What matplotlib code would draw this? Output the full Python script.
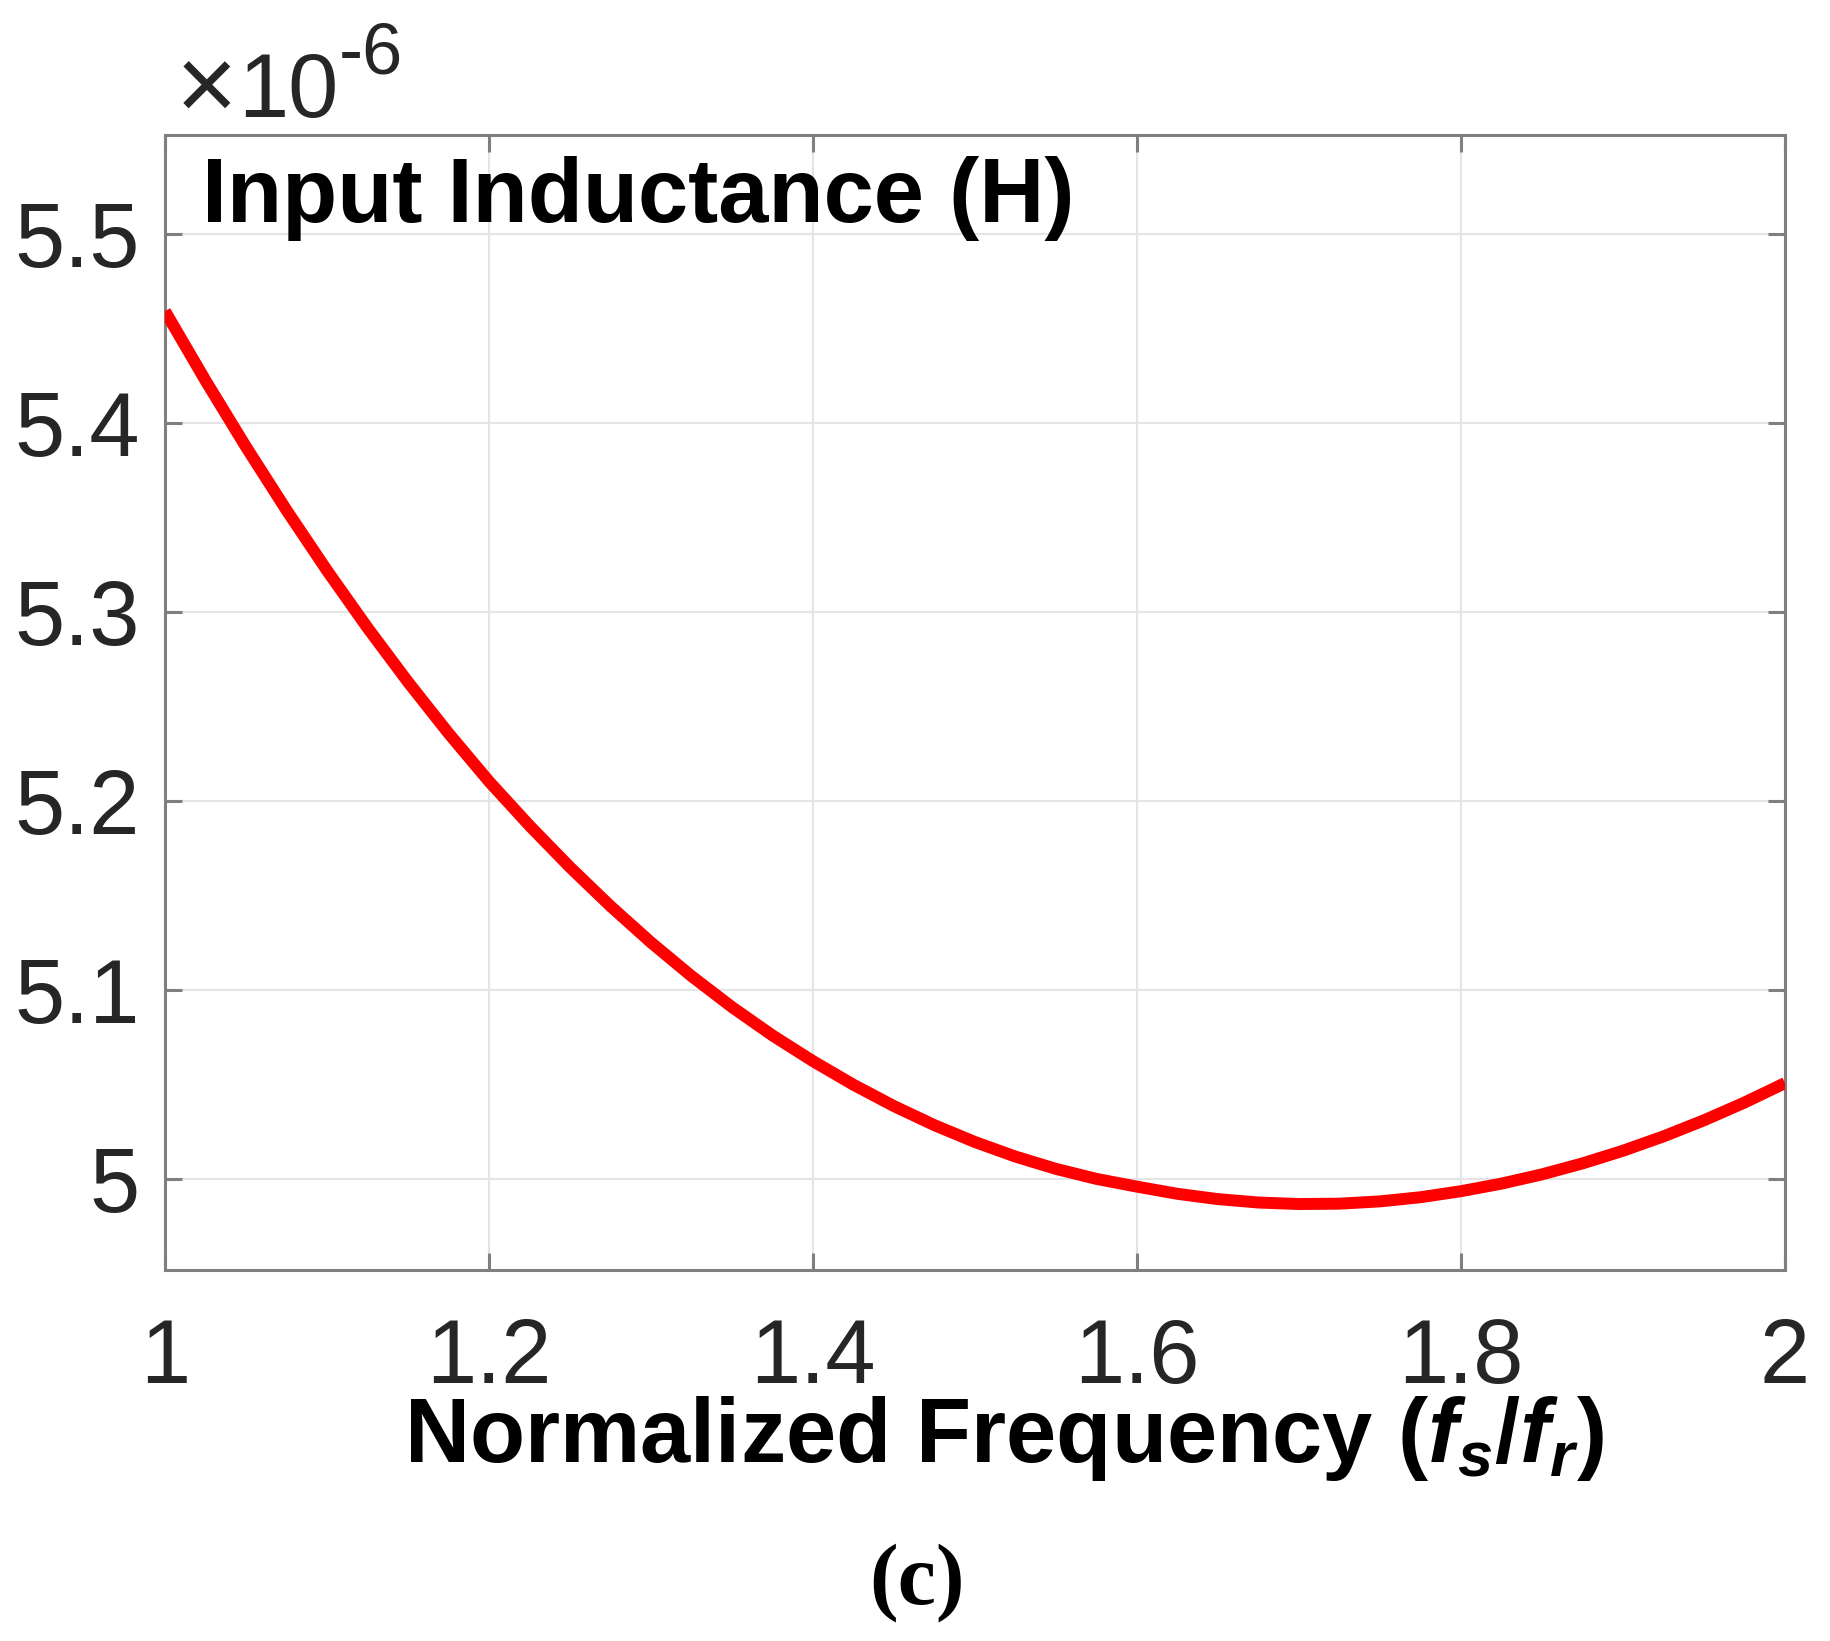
import matplotlib
matplotlib.use("Agg")
import matplotlib.pyplot as plt
from matplotlib.ticker import FuncFormatter

# normalized frequency fs/fr and input inductance (x 1e-6 H)
freq = [1.000, 1.025, 1.050, 1.075, 1.100, 1.125, 1.150, 1.175, 1.200, 1.225,
        1.250, 1.275, 1.300, 1.325, 1.350, 1.375, 1.400, 1.425, 1.450, 1.475,
        1.500, 1.525, 1.550, 1.575, 1.600, 1.625, 1.650, 1.675, 1.700, 1.725,
        1.750, 1.775, 1.800, 1.825, 1.850, 1.875, 1.900, 1.925, 1.950, 1.975,
        2.000]
inductance = [5.4590, 5.4223, 5.3872, 5.3537, 5.3218, 5.2915, 5.2628, 5.2357,
              5.2102, 5.1868, 5.1648, 5.1442, 5.1250, 5.1072, 5.0908, 5.0758,
              5.0622, 5.0497, 5.0384, 5.0283, 5.0194, 5.0117, 5.0052, 4.9999,
              4.9958, 4.9920, 4.9892, 4.9874, 4.9866, 4.9868, 4.9880, 4.9902,
              4.9934, 4.9974, 5.0023, 5.0081, 5.0148, 5.0224, 5.0309, 5.0403,
              5.0506]

xticks = [1, 1.2, 1.4, 1.6, 1.8, 2]
yticks = [5.0, 5.1, 5.2, 5.3, 5.4, 5.5]

plt.rcParams['font.family'] = ['Liberation Sans', 'DejaVu Sans']
plt.rcParams['mathtext.fontset'] = 'custom'
plt.rcParams['mathtext.rm'] = 'Liberation Sans:bold'
plt.rcParams['mathtext.bf'] = 'Liberation Sans:bold'
plt.rcParams['mathtext.it'] = 'Liberation Sans:italic:bold'

W, H = 1831, 1641
L, R, T, B = 165, 1785, 135, 1270   # axes box in pixels
fig = plt.figure(figsize=(W / 100, H / 100), dpi=100)
ax = fig.add_axes([L / W, 1 - B / H, (R - L) / W, (B - T) / H])

ax.plot(freq, inductance, color='#ff0000', lw=8.6, solid_capstyle='butt',
        solid_joinstyle='round', zorder=3)

ax.set_xlim(1, 2)
ax.set_ylim(4.9517, 5.5522)
ax.set_xticks(xticks)
ax.set_yticks(yticks)
fmt = FuncFormatter(lambda v, p: '%g' % round(v, 3))
ax.xaxis.set_major_formatter(fmt)
ax.yaxis.set_major_formatter(fmt)

ax.grid(True, color='#e4e4e4', lw=1.5, zorder=0)
ax.set_axisbelow(True)
for s in ax.spines.values():
    s.set_color('#7f7f7f')
    s.set_linewidth(2.2)

ax.tick_params(axis='both', direction='in', length=12, width=2.2, color='#7f7f7f',
               top=True, right=True, labelsize=65, labelcolor='#262626')
ax.tick_params(axis='x', pad=34)
ax.tick_params(axis='y', pad=18)

ax.text((202 - L) / (R - L), (B - 222) / (B - T), 'Input Inductance (H)',
        transform=ax.transAxes, fontsize=65, fontweight='bold', color='black',
        ha='left', va='baseline')

ax.set_xlabel(r'Normalized Frequency ($f_s/f_r$)', fontsize=65, fontweight='bold',
              color='black', va='baseline')
ax.xaxis.set_label_coords((1004 - L) / (R - L), -(1462 - B) / (B - T))

# exponent label
fig.text(176 / W, 1 - 121 / H, '\u00d7', fontsize=76, color='#262626',
         ha='left', va='baseline')
fig.text(238 / W, 1 - 117 / H, '10', fontsize=65, color='#262626',
         ha='left', va='baseline')
fig.text(339 / W, 1 - 73 / H, '-6', fontsize=52, color='#262626',
         ha='left', va='baseline')

fig.text(917 / W, 1 - 1583 / H, '(c)', fontsize=62, fontweight='bold',
         family='Liberation Serif', color='black', ha='center', va='center')

fig.savefig('out.png', dpi=100, facecolor='white')
